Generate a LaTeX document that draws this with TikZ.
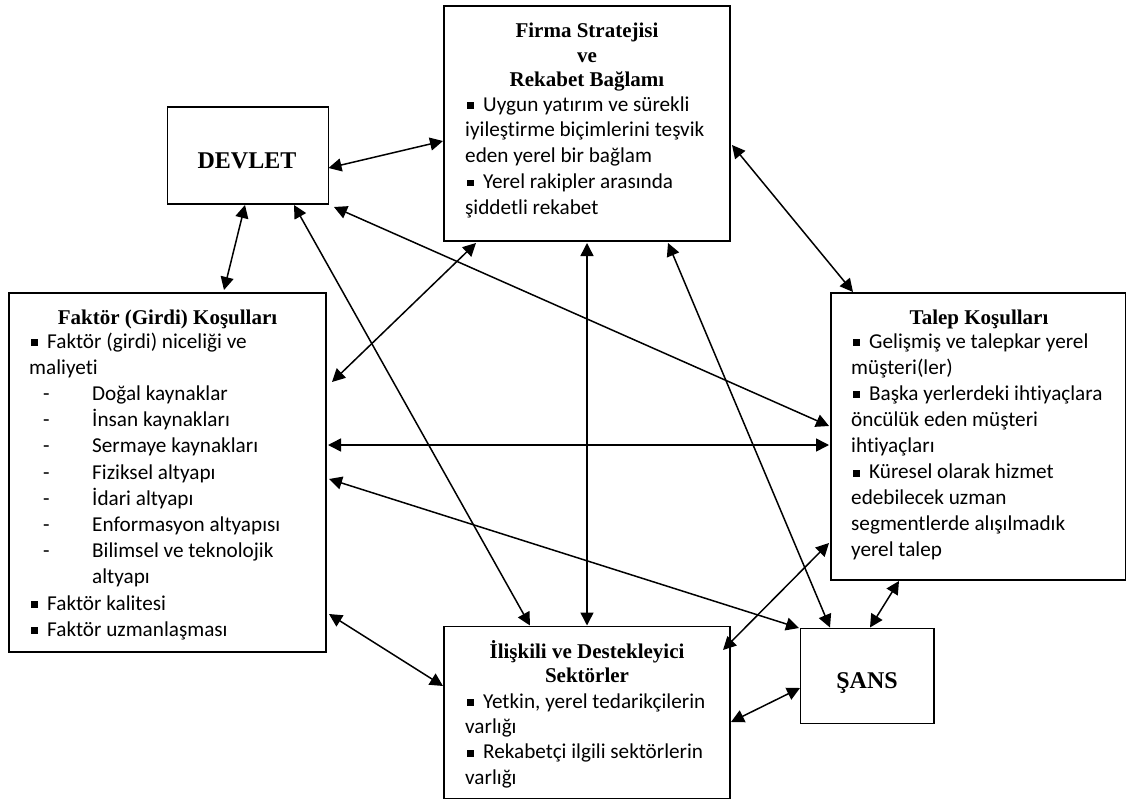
\documentclass[tikz,border=0pt]{standalone}
\usepackage{fontspec}
\setmainfont{Liberation Serif}
\newfontfamily\bodyfont[Ligatures={NoCommon}]{Carlito}
\usetikzlibrary{arrows.meta,calc}
\tikzset{
  box/.style={draw=black, line width=1.8pt, rectangle, inner sep=0pt, outer sep=0pt},
  link/.style={{Triangle[length=13pt,width=13pt]}-{Triangle[length=13pt,width=13pt]}, line width=1.5pt},
  ttl/.style={font=\fontsize{21}{24}\selectfont\bfseries, align=center, anchor=base, inner sep=0pt},
  big/.style={font=\fontsize{24}{28}\selectfont\bfseries, anchor=base, inner sep=0pt},
  body/.style={font=\bodyfont\fontsize{21.2}{#1}\selectfont, align=left, anchor=base west, inner sep=0pt},
  body/.default=26,
}
\newcommand{\bul}{\makebox[18pt][l]{\hspace{1.5pt}\rule[2pt]{6.8pt}{6.8pt}}}
\newcommand{\dsh}{\makebox[63pt][l]{\hspace{14pt}-}}
\begin{document}
\begin{tikzpicture}[x=1pt,y=-1pt]
\useasboundingbox[fill=white] (0,0) rectangle (1127,800);

% boxes
\node[box, minimum width=286pt, minimum height=235pt] (firma) at (587,123.5) {};
\node[box, minimum width=161pt, minimum height=97pt] (devlet) at (248,155.5) {};
\node[box, minimum width=317pt, minimum height=359pt] (faktor) at (167.5,472.5) {};
\node[box, minimum width=294.5pt, minimum height=287pt] (talep) at (978.25,436.5) {};
\node[box, minimum width=286pt, minimum height=172pt] (iliskili) at (587,712.5) {};
\node[box, minimum width=133.5pt, minimum height=95pt] (sans) at (867.25,676) {};

% texts (anchored at the baseline of their last line)
\node[ttl] (firmattl) at (587,86) {Firma Stratejisi\\ve\\Rekabet Bağlamı};
\node[body=25.8] (firmabody) at (465,214.2) {\bul Uygun yatırım ve sürekli\\iyileştirme biçimlerini teşvik\\eden yerel bir bağlam\\\bul Yerel rakipler arasında\\şiddetli rekabet};

\node[big] (devlettxt) at (247,168) {DEVLET};
\node[big] (sanstxt) at (867,688) {ŞANS};

\node[ttl] (faktorttl) at (167.5,324) {Faktör (Girdi) Koşulları};
\node[body=26.2] (faktorbody) at (29,636.2) {\bul Faktör (girdi) niceliği ve\\maliyeti\\\dsh Doğal kaynaklar\\\dsh İnsan kaynakları\\\dsh Sermaye kaynakları\\\dsh Fiziksel altyapı\\\dsh İdari altyapı\\\dsh Enformasyon altyapısı\\\dsh Bilimsel ve teknolojik\\\hspace*{63pt}altyapı\\\bul Faktör kalitesi\\\bul Faktör uzmanlaşması};

\node[ttl] (talepttl) at (979,324) {Talep Koşulları};
\node[body=26.1] (talepbody) at (851,556.8) {\bul Gelişmiş ve talepkar yerel\\müşteri(ler)\\\bul Başka yerlerdeki ihtiyaçlara\\öncülük eden müşteri\\ihtiyaçları\\\bul Küresel olarak hizmet\\edebilecek uzman\\segmentlerde alışılmadık\\yerel talep};

\node[ttl] (iliskilittl) at (587,682) {İlişkili ve Destekleyici\\Sektörler};
\node[body=25.4] (iliskilibody) at (465,784.2) {\bul Yetkin, yerel tedarikçilerin\\varlığı\\\bul Rekabetçi ilgili sektörlerin\\varlığı};

% connectors
\draw[link] ($(devlet.east)+(0,12.5)$) -- ($(firma.west)+(-1,17.5)$);
\draw[link] ($(devlet.south)+(-3,1)$) -- ($(faktor.north)+(56.5,-3)$);
\draw[link] ($(devlet.south)+(46,1)$) -- ($(iliskili.north)+(-57,-1)$);
\draw[link] ($(devlet.south east)+(5.5,3)$) -- ($(talep.west)+(-2,-10.5)$);
\draw[link] ($(firma.south)+(-111,2)$) -- ($(faktor.east)+(6,-90.5)$);
\draw[link] ($(firma.south)+(0,2)$) -- ($(iliskili.north)+(0,-1)$);
\draw[link] ($(firma.south)+(81,2)$) -- ($(sans.north)+(-37.25,-1)$);
\draw[link] ($(firma.east)+(2,21.5)$) -- ($(talep.north)+(-125.25,-1)$);
\draw[link] ($(faktor.east)+(2,-27.5)$) -- ($(talep.west)+(-2,8.5)$);
\draw[link] ($(faktor.east)+(3,6.5)$) -- ($(sans.north west)+(-1.5,-0.5)$);
\draw[link] ($(faktor.east)+(3,141.5)$) -- ($(iliskili.west)+(-1,-26.5)$);
\draw[link] ($(iliskili.east)+(-7,-62.5)$) -- ($(talep.west)+(-2,106.5)$);
\draw[link] ($(iliskili.east)+(1,9.5)$) -- ($(sans.west)+(-0.5,12)$);
\draw[link] ($(sans.north)+(2.75,-1)$) -- ($(talep.south)+(-79.25,1)$);
\end{tikzpicture}
\end{document}
